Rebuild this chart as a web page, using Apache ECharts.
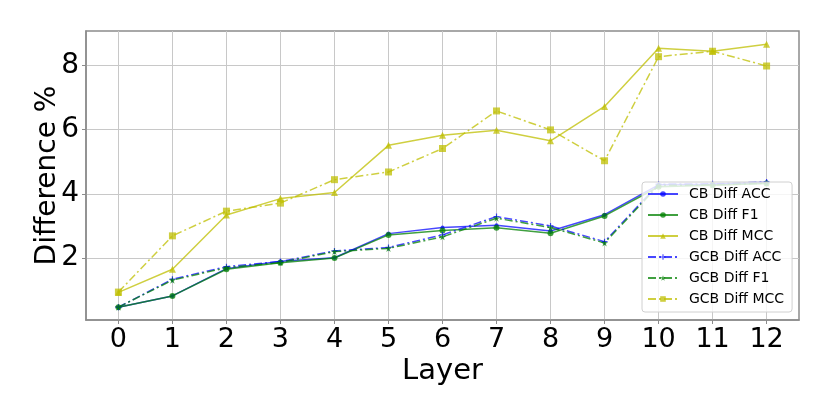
<!DOCTYPE html>
<html>
<head>
<meta charset="utf-8">
<script src="https://cdn.jsdelivr.net/npm/echarts@6/dist/echarts.min.js"></script>
<style>
html,body{margin:0;padding:0;background:#fff;}
#c{width:830px;height:415px;}
</style>
</head>
<body>
<div id="c"></div>
<script>
const layers = [0,1,2,3,4,5,6,7,8,9,10,11,12];
const xTicks = [0,1,2,3,4,5,6,7,8,9,10,11,12];
const yTicks = [2,4,6,8];
const cbAcc  = [0.47, 0.82, 1.67, 1.90, 2.01, 2.76, 2.95, 3.02, 2.84, 3.35, 4.28, 4.30, 4.36];
const cbF1   = [0.47, 0.82, 1.65, 1.85, 2.00, 2.72, 2.86, 2.94, 2.77, 3.31, 4.22, 4.27, 4.32];
const cbMcc  = [0.93, 1.65, 3.34, 3.85, 4.04, 5.51, 5.82, 5.98, 5.65, 6.72, 8.53, 8.44, 8.66];
const gcbAcc = [0.47, 1.34, 1.73, 1.89, 2.22, 2.33, 2.72, 3.29, 3.00, 2.51, 4.30, 4.31, 4.37];
const gcbF1  = [0.47, 1.31, 1.70, 1.86, 2.20, 2.30, 2.66, 3.24, 2.95, 2.47, 4.26, 4.28, 4.33];
const gcbMcc = [0.94, 2.69, 3.46, 3.71, 4.44, 4.68, 5.41, 6.58, 5.99, 5.03, 8.27, 8.44, 7.98];
const names = ['CB Diff ACC','CB Diff F1','CB Diff MCC','GCB Diff ACC','GCB Diff F1','GCB Diff MCC'];

const FONT = 'DejaVu Sans';
const BLUE = 'rgba(0,0,255,0.72)';
const GREEN = 'rgba(0,128,0,0.75)';
const YELLOW = 'rgba(191,191,0,0.75)';
const DASHDOT = [8,3,2,3];
const PLUS = 'path://M4,0L6,0L6,4L10,4L10,6L6,6L6,10L4,10L4,6L0,6L0,4L4,4Z';
const STAR = 'path://M50,0L61,35L98,35L68,57L79,91L50,70L21,91L32,57L2,35L39,35Z';

function pts(arr){ return layers.map((l,i)=>[l, arr[i]]); }

function mk(name, arr, color, dashed, symbol, size){
  return {
    name: name, type: 'line', data: pts(arr),
    symbol: symbol, symbolSize: size, showSymbol: true,
    lineStyle: {color: color, width: 1.5, type: dashed ? DASHDOT : 'solid'},
    itemStyle: {color: color, borderWidth: 0},
    emphasis: {disabled: true},
    animation: false
  };
}

const chart = echarts.init(document.getElementById('c'), null, {renderer: 'canvas'});
chart.setOption({
  backgroundColor: '#fff',
  animation: false,
  grid: {left: 86, right: 31, top: 31, bottom: 95, show: true, borderColor: '#8c8c8c', borderWidth: 1.5, backgroundColor: 'transparent'},
  xAxis: {
    type: 'value', min: -0.6, max: 12.6,
    name: 'Layer', nameLocation: 'middle', nameGap: 37, nameMoveOverlap: false,
    nameTextStyle: {fontFamily: FONT, fontSize: 29, color: '#000'},
    axisLine: {show: true, onZero: false, lineStyle: {color: '#8c8c8c', width: 1.5}},
    axisTick: {show: true, length: 4, customValues: xTicks, lineStyle: {color: '#8c8c8c'}},
    axisLabel: {customValues: xTicks, fontFamily: FONT, fontSize: 27, color: '#000', margin: 6},
    splitLine: {show: true, lineStyle: {color: '#c8c8c8', width: 1}}
  },
  yAxis: {
    type: 'value', min: 0.07, max: 9.07,
    name: 'Difference %', nameLocation: 'middle', nameGap: 24, nameRotate: 90, nameMoveOverlap: false,
    nameTextStyle: {fontFamily: FONT, fontSize: 28, color: '#000'},
    axisLine: {show: true, onZero: false, lineStyle: {color: '#8c8c8c', width: 1.5}},
    axisTick: {show: true, length: 4, customValues: yTicks, lineStyle: {color: '#8c8c8c'}},
    axisLabel: {customValues: yTicks, fontFamily: FONT, fontSize: 28, color: '#000', margin: 7},
    splitLine: {show: true, lineStyle: {color: '#c8c8c8', width: 1}}
  },
  legend: {
    data: names,
    orient: 'vertical',
    left: 642, top: 182, width: 150,
    padding: [5, 8, 6, 5],
    itemWidth: 30, itemHeight: 7, itemGap: 7,
    backgroundColor: 'rgba(255,255,255,0.82)',
    borderColor: '#d0d0d0', borderWidth: 1, borderRadius: 3,
    textStyle: {fontFamily: FONT, fontSize: 14, color: '#000', padding: [0,0,0,6]},
    selectedMode: false,
    z: 10
  },
  series: [
    mk(names[0], cbAcc, BLUE, false, 'circle', 4),
    mk(names[1], cbF1, GREEN, false, 'circle', 6),
    mk(names[2], cbMcc, YELLOW, false, 'triangle', 7),
    mk(names[3], gcbAcc, BLUE, true, PLUS, 6),
    mk(names[4], gcbF1, GREEN, true, STAR, 7),
    mk(names[5], gcbMcc, YELLOW, true, 'rect', 7)
  ]
});
</script>
</body>
</html>
